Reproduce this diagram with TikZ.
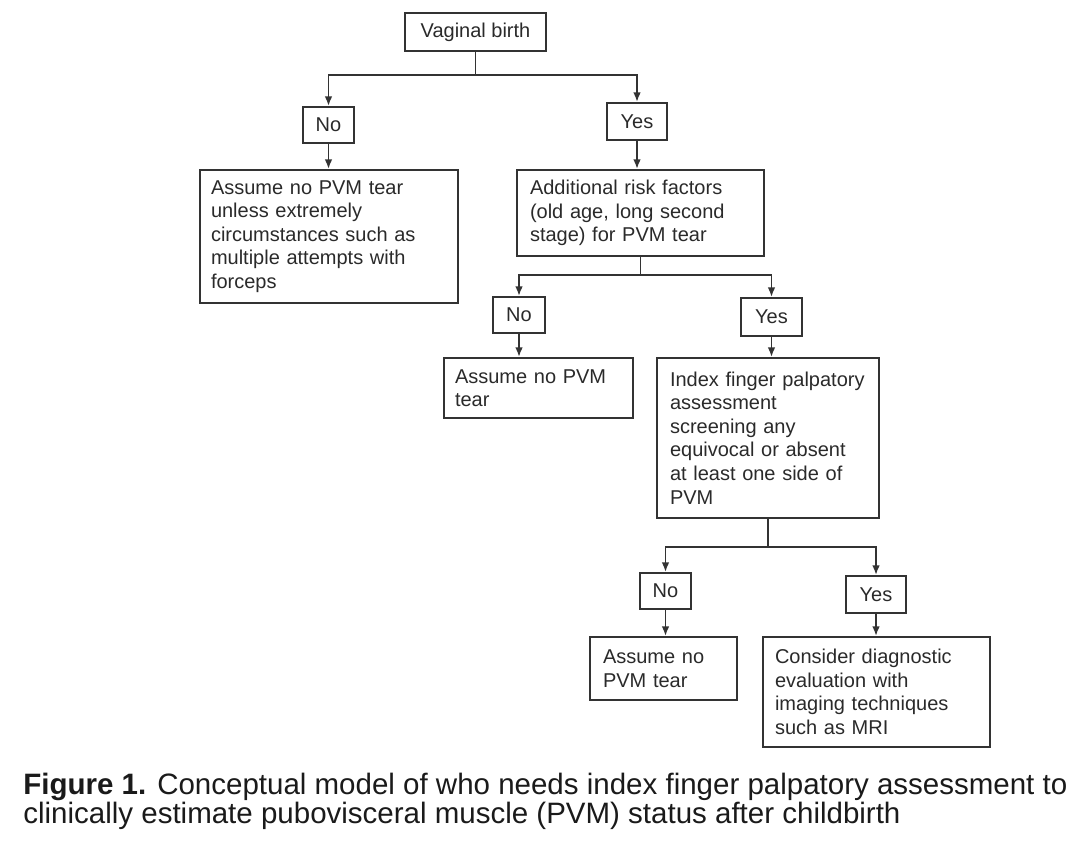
\documentclass[tikz,border=0pt]{standalone}
\usepackage{fontspec}
\setmainfont{Liberation Sans}
\usetikzlibrary{arrows.meta,positioning}
\definecolor{inkgray}{HTML}{333333}
\definecolor{textgray}{HTML}{2A2A2A}
\definecolor{capblack}{HTML}{1A1A1A}

\begin{document}
\begin{tikzpicture}[
  x=0.5pt, y=-0.5pt,
  every node/.style={font=\fontsize{10}{11.75}\selectfont, text=textgray},
  box/.style={draw=inkgray, line width=0.95pt, align=left, inner ysep=2pt},
  ans/.style={draw=inkgray, line width=0.95pt, align=center, inner sep=0pt},
  arr/.style={-{Latex[length=4.8pt,width=3.8pt]}, line width=0.95pt, color=inkgray},
]
  \useasboundingbox (0,0) rectangle (1080,850);
  % first question
  \node[ans, minimum width=70.5pt, minimum height=19pt] (birth) at (475.5,32) {Vaginal birth};
  \node[ans, minimum width=25.5pt, minimum height=18pt] (no1) at (328.5,125) {No};
  \node[ans, minimum width=30pt, minimum height=18.5pt] (yes1) at (637,121.5) {Yes};
  \node[box, inner xsep=5.5pt, text width=118pt, minimum height=66.5pt] (none1) at (329,236.5)
    {Assume no PVM tear\\unless extremely\\circumstances such as\\multiple attempts with\\forceps};
  \node[box, inner xsep=6.5pt, text width=110.5pt, minimum height=43pt] (risk) at (640.5,213)
    {Additional risk factors\\(old age, long second\\stage) for PVM tear};
  % second question
  \node[ans, minimum width=26pt, minimum height=18pt] (no2) at (519,315) {No};
  \node[ans, minimum width=30.5pt, minimum height=19pt] (yes2) at (771.5,317) {Yes};
  \node[box, inner xsep=5.5pt, text width=83.5pt, minimum height=30pt] (none2) at (538.5,388)
    {Assume no PVM\\tear};
  \node[box, inner xsep=6.5pt, text width=98pt, minimum height=80pt] (index) at (768,438)
    {Index finger palpatory\\assessment\\screening any\\equivocal or absent\\at least one side of\\PVM};
  % third question
  \node[ans, minimum width=25.5pt, minimum height=18pt] (no3) at (665.5,591) {No};
  \node[ans, minimum width=30pt, minimum height=18.5pt] (yes3) at (876,594.5) {Yes};
  \node[box, inner xsep=6.5pt, text width=60.5pt, minimum height=31.5pt] (none3) at (663.5,668.5)
    {Assume no\\PVM tear};
  \node[box, inner xsep=6pt, text width=101.5pt, minimum height=55pt] (mri) at (876.5,692)
    {Consider diagnostic\\evaluation with\\imaging techniques\\such as MRI};
  % caption
  \node[anchor=north west, inner sep=0pt, align=left, text=capblack,
        font=\fontsize{14.75}{14.6}\selectfont] (caption) at (23,773)
    {\textbf{Figure 1.} Conceptual model of who needs index finger palpatory assessment to\\clinically estimate pubovisceral muscle (PVM) status after childbirth};

  \draw[arr] (birth.south) -- ++(0,23) -| (no1.north);
  \draw[arr] (birth.south) -- ++(0,23) -| (yes1.north);
  \draw[arr] (no1.south) -- (no1.south |- none1.north);
  \draw[arr] (yes1.south) -- (yes1.south |- risk.north);
  \draw[arr] (risk.south) -- ++(0,18) -| (no2.north);
  \draw[arr] (risk.south) -- ++(0,18) -| (yes2.north);
  \draw[arr] (no2.south) -- (no2.south |- none2.north);
  \draw[arr] (yes2.south) -- (yes2.south |- index.north);
  \draw[arr] (index.south) -- ++(0,28) -| (no3.north);
  \draw[arr] (index.south) -- ++(0,28) -| (yes3.north);
  \draw[arr] (no3.south) -- (no3.south |- none3.north);
  \draw[arr] (yes3.south) -- (yes3.south |- mri.north);
\end{tikzpicture}
\end{document}
